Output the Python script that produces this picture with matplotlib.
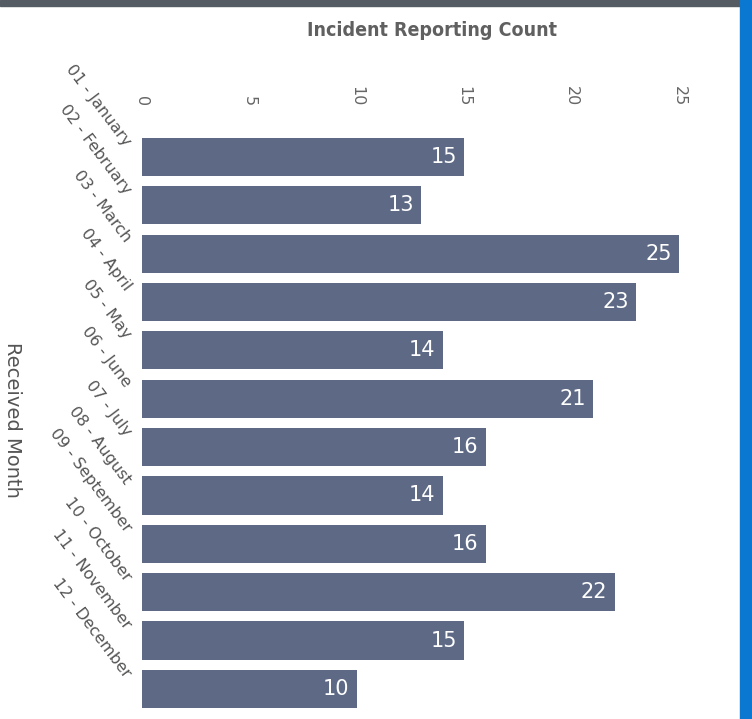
import matplotlib.pyplot as plt
from matplotlib.patches import Rectangle
from matplotlib.transforms import ScaledTranslation

months = ["01 - January", "02 - February", "03 - March", "04 - April",
          "05 - May", "06 - June", "07 - July", "08 - August",
          "09 - September", "10 - October", "11 - November", "12 - December"]
counts = [15, 13, 25, 23, 14, 21, 16, 14, 16, 22, 15, 10]
xticks = [0, 5, 10, 15, 20, 25]

W, H = 752, 719
fig = plt.figure(figsize=(W / 100, H / 100), dpi=100)
# axes box in pixels: left 142, right 722, top 123, bottom 718
ax = fig.add_axes([142 / W, 1 - 718 / H, (722 - 142) / W, (718 - 123) / H])

pos = list(range(len(months)))
ax.barh(pos, counts, height=0.79, color="#5e6a85")
ax.set_ylim(11.6, -0.7)
ax.set_xlim(0, 27)

for y, v in zip(pos, counts):
    ax.text(v - 0.35, y, str(v), color="white", fontsize=15,
            ha="right", va="center")

ax.xaxis.tick_top()
ax.xaxis.set_label_position("top")
ax.set_xticks(xticks)
ax.set_xticklabels([str(t) for t in xticks], rotation=-90, fontsize=11.5,
                   color="#666666")
ax.tick_params(axis="x", length=0, pad=12)

ax.set_yticks(pos)
ax.set_yticklabels(months, rotation=-53, ha="right", va="center",
                   rotation_mode="anchor", fontsize=11.5, color="#555555")
ax.tick_params(axis="y", length=0, pad=10)
shift = ScaledTranslation(0, 0.13, fig.dpi_scale_trans)
for lab in ax.get_yticklabels():
    lab.set_transform(lab.get_transform() + shift)

ax.set_xlabel("Incident Reporting Count", fontsize=14, color="#606060",
              family="DejaVu Sans", fontstretch="condensed",
              fontweight="bold", labelpad=36)
fig.text(12 / W, 1 - 420 / H, "Received Month", rotation=-90, fontsize=14,
         color="#555555", ha="center", va="center")

for s in ax.spines.values():
    s.set_visible(False)

# scan artefacts: dark strip on top, blue band on the right
fig.patches.append(Rectangle((0, 1 - 6 / H), 1, 6 / H, transform=fig.transFigure,
                             color="#555b63", zorder=0))
fig.patches.append(Rectangle((740 / W, 0), 12 / W, 1, transform=fig.transFigure,
                             color="#0a78d0", zorder=0))

fig.savefig("out.png", dpi=100)
